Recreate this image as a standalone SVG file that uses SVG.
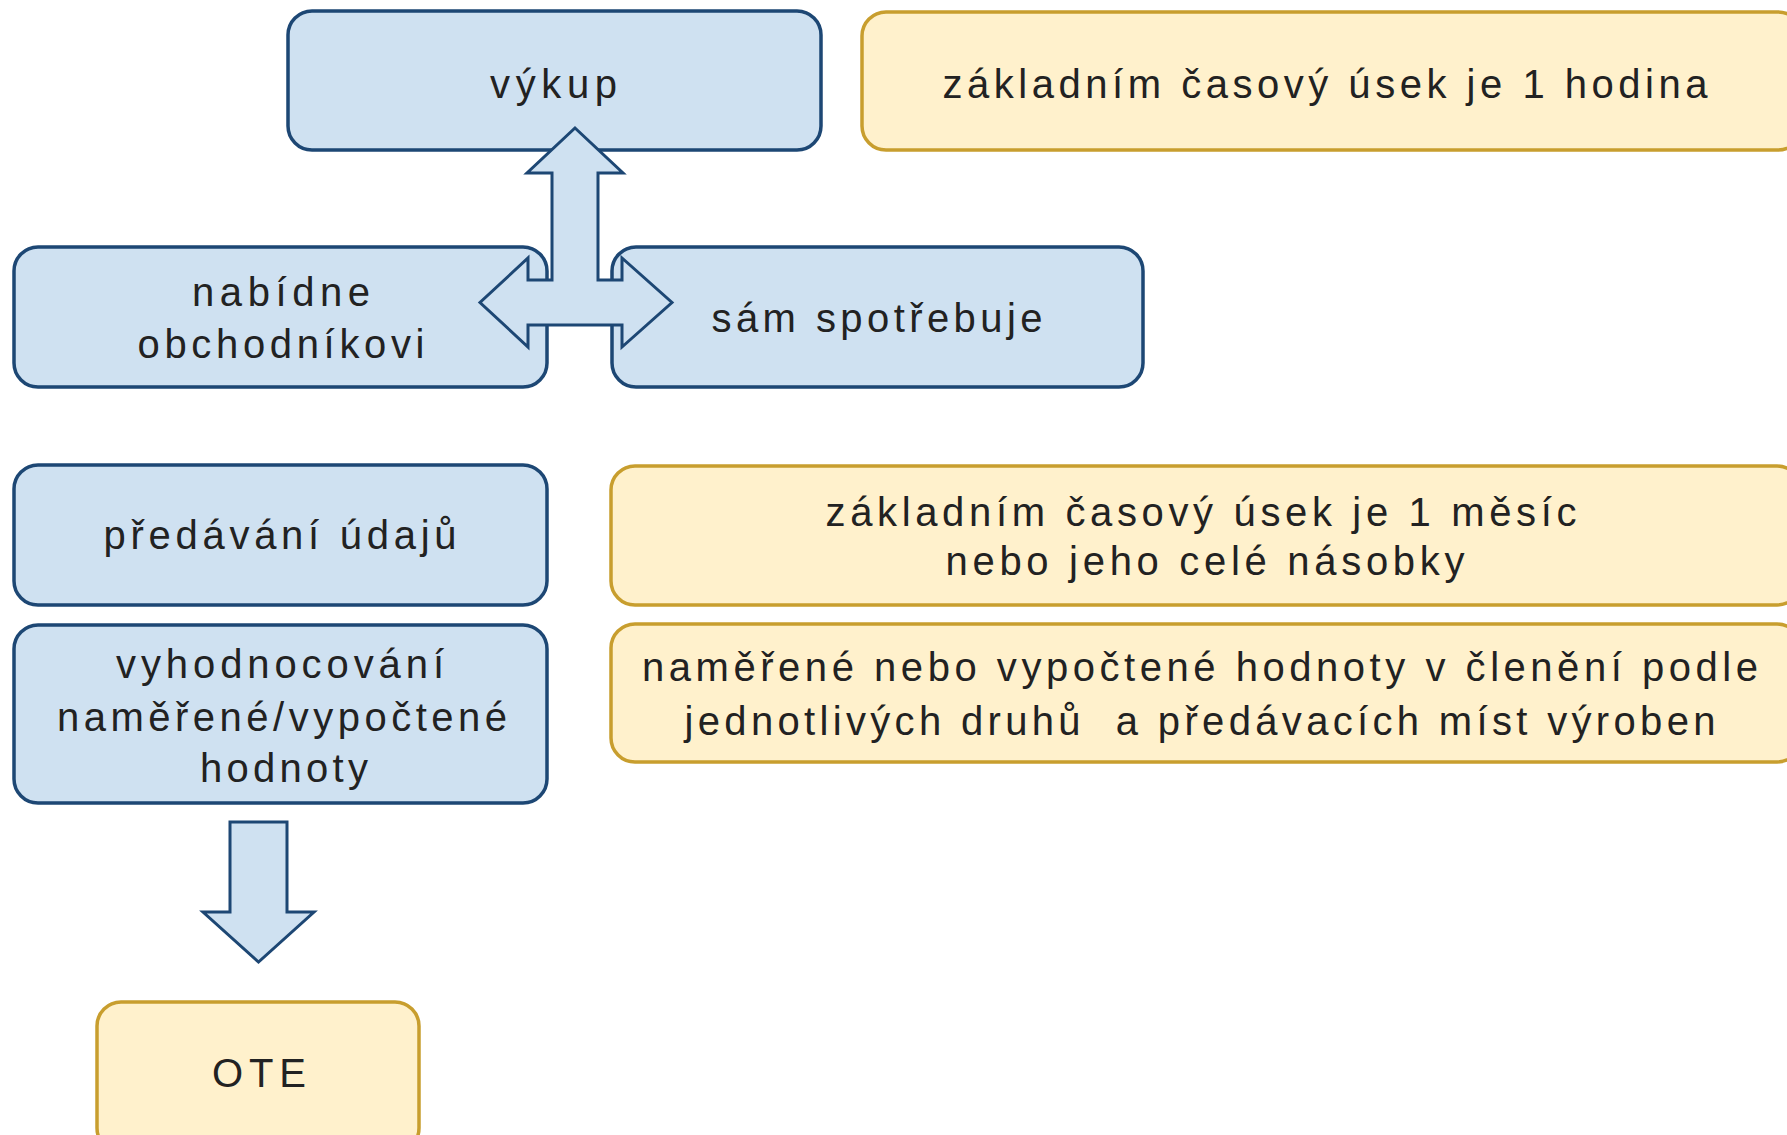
<svg xmlns="http://www.w3.org/2000/svg" width="1787" height="1135" viewBox="0 0 1787 1135">
<style>
.b{fill:#cfe1f1;stroke:#1d4774;stroke-width:3.5}
.y{fill:#fff1cc;stroke:#c89e2e;stroke-width:3.5}
.t{font-family:"Liberation Sans",Arial,sans-serif;font-size:40px;fill:#222222;text-anchor:middle}
.a{fill:#cfe1f1;stroke:#1d4774;stroke-width:3;stroke-linejoin:miter}
</style>
<rect width="1787" height="1135" fill="#ffffff"/>
<g id="vykup"><rect class="b" x="288" y="11" width="533" height="139" rx="24"/>
<text class="t" x="553.5" y="98" textLength="127" lengthAdjust="spacing">výkup</text></g>
<g id="hodina"><rect class="y" x="862" y="12" width="940" height="138" rx="24"/>
<text class="t" x="1325" y="98" textLength="765" lengthAdjust="spacing">základním časový úsek je 1 hodina</text></g>
<g id="nabidne"><rect class="b" x="14" y="247" width="533" height="140" rx="24"/>
<text class="t" x="281" y="306" textLength="178" lengthAdjust="spacing">nabídne</text>
<text class="t" x="281" y="358" textLength="287" lengthAdjust="spacing">obchodníkovi</text></g>
<g id="spotrebuje"><rect class="b" x="612" y="247" width="531" height="140" rx="24"/>
<text class="t" x="877" y="332" textLength="331" lengthAdjust="spacing">sám spotřebuje</text></g>
<g id="predavani"><rect class="b" x="14" y="465" width="533" height="140" rx="24"/>
<text class="t" x="280" y="549" textLength="353" lengthAdjust="spacing">předávání údajů</text></g>
<g id="mesic"><rect class="y" x="611" y="466" width="1190" height="139" rx="24"/>
<text class="t" x="1201" y="526" textLength="751" lengthAdjust="spacing">základním časový úsek je 1 měsíc</text>
<text class="t" x="1205" y="575" textLength="519" lengthAdjust="spacing">nebo jeho celé násobky</text></g>
<g id="vyhodnocovani"><rect class="b" x="14" y="625" width="533" height="178" rx="24"/>
<text class="t" x="280" y="678" textLength="328" lengthAdjust="spacing">vyhodnocování</text>
<text class="t" x="282" y="731" textLength="450" lengthAdjust="spacing">naměřené/vypočtené</text>
<text class="t" x="284" y="782" textLength="168" lengthAdjust="spacing">hodnoty</text></g>
<g id="hodnoty"><rect class="y" x="611" y="624" width="1190" height="138" rx="24"/>
<text class="t" x="1200" y="681" textLength="1116" lengthAdjust="spacing">naměřené nebo vypočtené hodnoty v členění podle</text>
<text class="t" x="1200" y="735" textLength="1031" lengthAdjust="spacing" xml:space="preserve">jednotlivých druhů  a předávacích míst výroben</text></g>
<g id="ote"><rect class="y" x="97" y="1002" width="322" height="150" rx="24"/>
<text class="t" x="259" y="1087" textLength="94" lengthAdjust="spacing">OTE</text></g>
<g id="connectors">
<polygon class="a" points="575,128 623,173 598,173 598,280 622,280 622,258 672,302.5 622,347 622,325 528,325 528,347 480,302.5 528,258 528,280 552,280 552,173 527,173"/>
<polygon class="a" points="230,822 287,822 287,912 314,912 258.5,962 203,912 230,912"/>
</g>
</svg>
